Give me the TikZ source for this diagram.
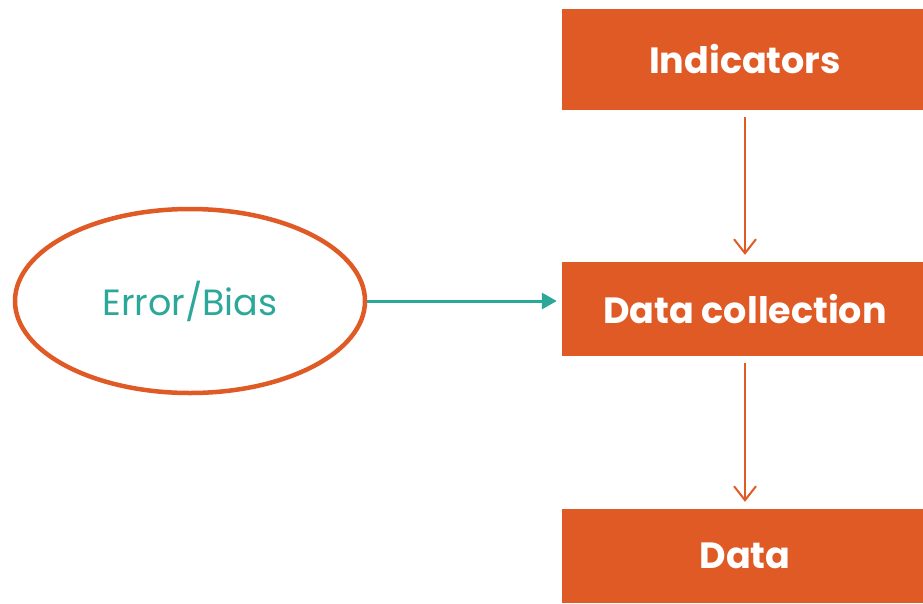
\documentclass[tikz,border=0pt]{standalone}
\usepackage{fontspec}
\setmainfont{Poppins}
\usetikzlibrary{arrows.meta,shapes.geometric}
\definecolor{flame}{HTML}{E05A26}
\definecolor{teal}{HTML}{2BA89A}
\begin{document}
\begin{tikzpicture}[x=1pt,y=-1pt,
  stagebox/.style={fill=flame,draw=none,minimum width=366pt,minimum height=96pt,
    inner sep=0pt,text=white,font=\fontsize{36.5}{40}\selectfont\bfseries},
  flowarrow/.style={draw=flame,line width=2pt,
    -{Straight Barb[length=14pt,width=22pt,line width=2pt]},shorten >=7pt,shorten <=7pt},
  biasarrow/.style={draw=teal,line width=3pt,
    -{Triangle[length=15pt,width=16pt]},shorten >=5pt}]
\useasboundingbox (0,0) rectangle (923,603);
\node[stagebox,minimum height=101pt] (ind) at (745,59.5) {Indicators};
\node[stagebox,minimum height=94pt] (coll) at (745,309) {Data collection};
\node[stagebox,minimum height=94pt] (data) at (745,556) {Data};
\node[ellipse,draw=flame,line width=4.5pt,minimum width=350pt,minimum height=184pt,
  inner sep=0pt,text=teal,font=\fontsize{36.5}{40}\selectfont] (bias) at (190,301) {Error/Bias};
\draw[flowarrow] (ind.south) -- (coll.north);
\draw[flowarrow] (coll.south) -- (data.north);
\draw[biasarrow] (bias.east) -- (coll.west |- bias.east);
\end{tikzpicture}
\end{document}
